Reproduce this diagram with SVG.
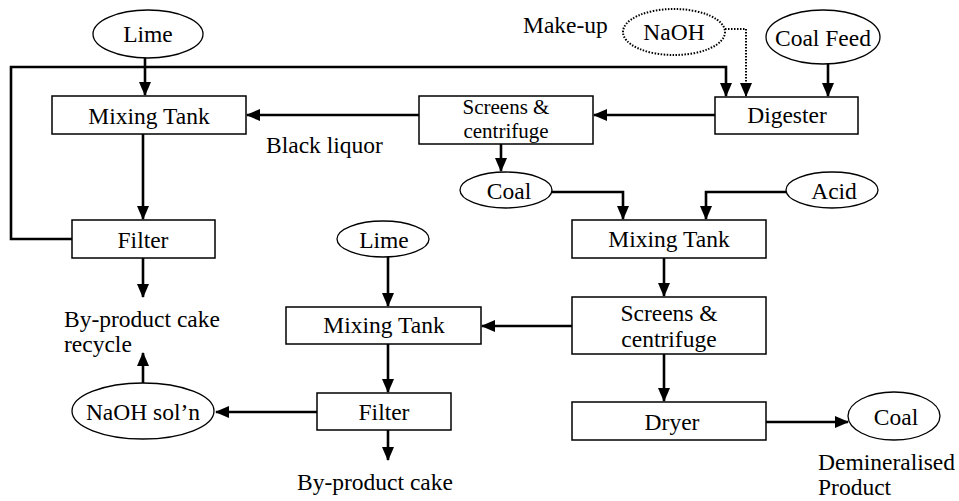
<svg xmlns="http://www.w3.org/2000/svg" width="959" height="501" viewBox="0 0 959 501">
<style>
text{font-family:'Liberation Serif','Times New Roman','DejaVu Serif',serif;font-size:23.5px;fill:#000}
.c{text-anchor:middle}
.s{font-size:21px}
.box{fill:#fff;stroke:#000;stroke-width:1.5}
.ell{fill:#fff;stroke:#000;stroke-width:1.3}
.ln{fill:none;stroke:#000;stroke-width:2.6}
.dot{fill:none;stroke:#000;stroke-width:2;stroke-dasharray:1.5 1.5}
</style>
<defs>
<marker id="ah" markerUnits="userSpaceOnUse" markerWidth="14" markerHeight="12" refX="13" refY="6" orient="auto">
<path d="M0,0 L14,6 L0,12 Z" fill="#000"/>
</marker>
</defs>
<g id="connectors">
<path class="ln" d="M145,58 V95" marker-end="url(#ah)"/>
<path class="ln" d="M72,239 H11 V67 H726 V96" marker-end="url(#ah)"/>
<path class="ln" d="M419,115 H247" marker-end="url(#ah)"/>
<path class="ln" d="M715,115 H594" marker-end="url(#ah)"/>
<path class="dot" d="M725,29 H746 V96" marker-end="url(#ah)"/>
<path class="ln" d="M828,64 V96" marker-end="url(#ah)"/>
<path class="ln" d="M143,134 V219" marker-end="url(#ah)"/>
<path class="ln" d="M143,258 V297" marker-end="url(#ah)"/>
<path class="ln" d="M501,144 V171" marker-end="url(#ah)"/>
<path class="ln" d="M552,192 H623 V219" marker-end="url(#ah)"/>
<path class="ln" d="M786,192 H706 V219" marker-end="url(#ah)"/>
<path class="ln" d="M664,258 V296" marker-end="url(#ah)"/>
<path class="ln" d="M572,326 H482" marker-end="url(#ah)"/>
<path class="ln" d="M664,354 V401" marker-end="url(#ah)"/>
<path class="ln" d="M766,422 H848" marker-end="url(#ah)"/>
<path class="ln" d="M388,257 V306" marker-end="url(#ah)"/>
<path class="ln" d="M388,344 V392" marker-end="url(#ah)"/>
<path class="ln" d="M388,430 V460" marker-end="url(#ah)"/>
<path class="ln" d="M317,412 H216" marker-end="url(#ah)"/>
<path class="ln" d="M143,383 V353" marker-end="url(#ah)"/>
</g>
<g id="lime1"><ellipse class="ell" cx="148" cy="34" rx="55" ry="24"/><text class="c" x="148" y="42">Lime</text></g>
<g id="mix1"><rect class="box" x="52" y="96" width="194" height="38"/><text class="c" x="149" y="124">Mixing Tank</text></g>
<g id="screens1"><rect class="box" x="419" y="96" width="174" height="48"/><text class="c s" x="506" y="114">Screens &amp;</text><text class="c s" x="506" y="138">centrifuge</text></g>
<g id="makeup"><text x="523" y="33">Make-up</text></g>
<g id="naoh"><ellipse fill="#fff" class="dot" cx="674" cy="32" rx="51" ry="23"/><text class="c" x="674" y="40">NaOH</text></g>
<g id="coalfeed"><ellipse class="ell" cx="823" cy="37" rx="57" ry="27"/><text class="c" x="823" y="46">Coal Feed</text></g>
<g id="digester"><rect class="box" x="715" y="97" width="143" height="37"/><text class="c" x="787" y="123">Digester</text></g>
<g id="blackliquor"><text x="266" y="153">Black liquor</text></g>
<g id="filter1"><rect class="box" x="72" y="220" width="143" height="38"/><text class="c" x="143" y="248">Filter</text></g>
<g id="coal1"><ellipse class="ell" cx="506" cy="190" rx="46" ry="18"/><text class="c" x="509" y="199">Coal</text></g>
<g id="acid"><ellipse class="ell" cx="832" cy="190" rx="46" ry="18"/><text class="c" x="834" y="199">Acid</text></g>
<g id="mix3"><rect class="box" x="572" y="220" width="194" height="38"/><text class="c" x="669" y="247">Mixing Tank</text></g>
<g id="lime2"><ellipse class="ell" cx="383" cy="239" rx="46" ry="18"/><text class="c" x="384" y="248">Lime</text></g>
<g id="bycake1"><text x="64" y="327">By-product cake</text><text x="64" y="352">recycle</text></g>
<g id="mix2"><rect class="box" x="286" y="307" width="195" height="37"/><text class="c" x="384" y="333">Mixing Tank</text></g>
<g id="screens2"><rect class="box" x="572" y="297" width="194" height="57"/><text class="c" x="669" y="321">Screens &amp;</text><text class="c" x="669" y="347">centrifuge</text></g>
<g id="naohsoln"><ellipse class="ell" cx="143" cy="411" rx="71" ry="28"/><text class="c" x="143" y="420">NaOH sol’n</text></g>
<g id="filter2"><rect class="box" x="317" y="393" width="134" height="37"/><text class="c" x="384" y="420">Filter</text></g>
<g id="dryer"><rect class="box" x="572" y="402" width="194" height="38"/><text class="c" x="672" y="430">Dryer</text></g>
<g id="coal2"><ellipse class="ell" cx="894" cy="416" rx="46" ry="24"/><text class="c" x="896" y="425">Coal</text></g>
<g id="bycake2"><text x="297" y="490">By-product cake</text></g>
<g id="demin"><text x="818" y="470">Demineralised</text><text x="818" y="495">Product</text></g>
</svg>
